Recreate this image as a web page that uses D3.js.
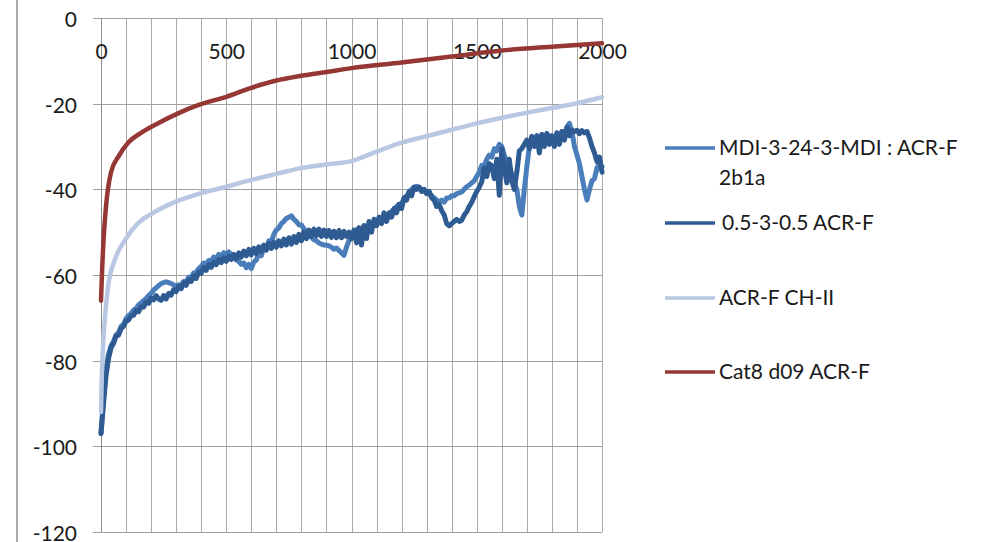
<!DOCTYPE html>
<html><head><meta charset="utf-8">
<script src="https://cdn.jsdelivr.net/npm/d3@7"></script>
<style>body{margin:0;background:#fff}svg{display:block}</style>
</head><body><svg id="c" width="984" height="542"></svg>
<script>
const seriesNames = ["MDI-3-24-3-MDI : ACR-F 2b1a", "0.5-3-0.5 ACR-F", "ACR-F CH-II", "Cat8 d09 ACR-F"];
const seriesColors = ["#4a7ebb", "#2f5b93", "#b9c8e2", "#953735"];
const xTickLabels = [0, 500, 1000, 1500, 2000];
const xGridValues = [0,100,200,300,400,500,600,700,800,900,1000,1100,1200,1300,1400,1500,1600,1700,1800,1900,2000];
const yTickLabels = [0, -20, -40, -60, -80, -100, -120];
// noisy series sampled every 10 units from 0 to 2000
const mdiValues = [
-97,-89,-82,-78.5,-76.5,-75.5,-74,-73.5,-72,-71.5,
-70.2,-69.5,-69,-68.2,-67.8,-67,-66.5,-66,-65.5,-64.8,
-64.3,-63.5,-63,-62.5,-62,-61.8,-61.6,-61.8,-62,-62.3,
-62.6,-62.3,-62.4,-61.5,-61.6,-60.5,-60.6,-59.5,-59.4,-58.5,
-58,-57.2,-57.5,-56.6,-56.8,-55.8,-56.2,-55.2,-55.6,-54.8,
-55.2,-54.6,-55.3,-55.5,-56.5,-56.8,-57.5,-57.2,-58.3,-57.5,
-58.5,-57,-56.5,-55,-55.5,-53.5,-53.8,-52,-52.3,-50.5,
-49.5,-49,-48,-47.5,-46.8,-46.5,-46.2,-47,-47.5,-48.3,
-48.3,-49.2,-50,-50.8,-51.2,-51.8,-52,-52.5,-52.8,-53,
-53,-53.2,-53.5,-54,-53.7,-54.3,-54.8,-55.4,-53.5,-52,
-50.5,-50,-49.5,-49,-49.5,-48.5,-49,-48,-48.5,-47.8,
-47.8,-47.2,-47,-46.5,-46.4,-46,-45.2,-44.6,-44,-43.5,
-43.3,-42.2,-41.5,-40.8,-40,-39.5,-39.3,-39.6,-40,-40.3,
-40.5,-41,-41.5,-42,-42.5,-43,-42.5,-43,-42,-42,
-41.5,-41.5,-41,-40.8,-40.6,-40,-39.4,-39,-38.5,-38,
-37,-36,-34.4,-34.5,-33,-32,-32.5,-30.5,-31,-29.5,
-30,-32,-33.5,-34.7,-36.5,-38.5,-40,-44,-46,-40,
-34.7,-30,-27.7,-29.5,-27.5,-29,-27.2,-28.5,-27,-28.5,
-27.5,-28.8,-27,-28.2,-26.5,-27.5,-25.5,-24.6,-26.5,-30,
-32,-34,-37,-40,-42.5,-40,-38,-37.5,-35,-34,
-34.7];
const darkValues = [
-97,-90,-83.5,-79.5,-77,-76,-74.3,-74,-72.5,-72,
-70.8,-70.5,-69.5,-69.4,-68.3,-68.6,-67.4,-67.5,-66.3,-66.6,
-65.4,-65.8,-64.8,-65.6,-65.9,-64.8,-65.6,-64.3,-64.7,-63.4,
-63.9,-62.6,-63.2,-61.8,-62.4,-61.1,-61.5,-60.2,-60.8,-59.3,
-59.6,-58.2,-58.9,-57.6,-58.2,-57,-57.6,-56.4,-57.1,-56,
-56.8,-55.6,-56.4,-55.2,-56.2,-54.8,-55.8,-54.4,-55.5,-54,
-55.3,-53.8,-55,-53.4,-54.5,-53,-54.2,-52.6,-53.8,-52.3,
-53.5,-52,-53.2,-51.6,-53,-51.3,-52.8,-51,-52.4,-50.5,
-52,-50,-51.5,-49.5,-51,-49.3,-50.8,-49.3,-51,-49.5,
-51,-49.6,-51.2,-49.8,-51.3,-49.6,-51.3,-49.8,-51,-50,
-51.5,-49.5,-52.5,-49,-53,-48.5,-51.5,-47.5,-50,-47,
-48.5,-46.5,-48,-45.5,-47.5,-45.5,-46.5,-44.5,-45.5,-43.5,
-44.5,-42,-42.5,-40.5,-41.5,-39.5,-40,-39.5,-40.5,-40,
-41,-40.5,-42,-42.5,-44,-43.5,-45,-46,-48,-48.5,
-48,-47.5,-47,-47.5,-47.2,-46,-45.2,-44,-43,-41.7,
-40.5,-39.5,-38.2,-35,-37,-34,-34.5,-37.5,-33,-41.4,
-30.5,-35,-38.5,-33,-38,-40,-36,-31,-30.5,-29.5,
-28.5,-30.5,-27.7,-30,-27.5,-31.5,-27.2,-30,-27,-29.5,
-27.5,-30,-26.8,-29.5,-26.5,-28.5,-25.5,-27.5,-26.2,-26.5,
-26.2,-27,-26.3,-26.8,-26.5,-28,-30,-31.5,-33.5,-32.5,
-36];
const chX = [0,3,8,15,28,55,95,148,214,294,387,500,600,700,794,900,1000,1100,1200,1300,1400,1500,1600,1700,1800,1900,2000];
const chValues = [-92,-84,-77,-70.5,-62.8,-56.5,-51.9,-47.9,-45.3,-43,-41.1,-39.4,-37.8,-36.4,-35.1,-34.2,-33.4,-31.2,-29.1,-27.6,-26.1,-24.6,-23.3,-22.1,-21,-19.9,-18.5];
const catX = [0,5,10,20,40,70,110,160,230,310,390,500,600,700,800,900,1000,1200,1400,1600,1800,2000];
const catValues = [-66,-58,-52,-44,-36,-32.3,-29,-26.8,-24.5,-22.2,-20.3,-18.4,-16.3,-14.6,-13.5,-12.6,-11.7,-10.4,-9,-7.6,-6.7,-5.9];

const svg = d3.select("#c");
const x = d3.scaleLinear().domain([0, 2000]).range([101, 602]);
const y = d3.scaleLinear().domain([-120, 0]).range([532, 18]);
const font = "Lato, 'Open Sans', sans-serif";

// outer chart border (left edge)
svg.append("line").attr("x1", 17).attr("x2", 17).attr("y1", 0).attr("y2", 542)
  .attr("stroke", "#8c8c8c").attr("stroke-width", 1.5);

// gridlines
const g = svg.append("g").attr("shape-rendering", "crispEdges");
g.selectAll(".vg").data(xGridValues).join("line")
  .attr("x1", d => Math.round(x(d)) + 0.5).attr("x2", d => Math.round(x(d)) + 0.5)
  .attr("y1", y(0)).attr("y2", y(-120)).attr("stroke", "#aaaaaa").attr("stroke-width", 1);
g.selectAll(".hg").data(yTickLabels).join("line")
  .attr("x1", x(0) - 8).attr("x2", x(2000))
  .attr("y1", d => Math.round(y(d)) + 0.5).attr("y2", d => Math.round(y(d)) + 0.5)
  .attr("stroke", "#a0a0a0").attr("stroke-width", 1);
g.append("line").attr("x1", Math.round(x(0)) + 0.5).attr("x2", Math.round(x(0)) + 0.5)
  .attr("y1", y(0)).attr("y2", y(-120)).attr("stroke", "#8c8c8c");

// y axis labels
const yAxis = d3.axisLeft(y).tickValues(yTickLabels).tickSize(0).tickPadding(24).tickFormat(d => String(d));
const ya = svg.append("g").attr("transform", `translate(${x(0)},0)`).call(yAxis);
ya.select(".domain").remove();
ya.selectAll("text").attr("font-family", font).attr("font-size", 21).attr("fill", "#1a1a1a").attr("dy", "0.4em");

// x axis labels (below top axis line)
const xAxis = d3.axisBottom(x).tickValues(xTickLabels).tickSize(0).tickPadding(26).tickFormat(d => String(d));
const xa = svg.append("g").attr("transform", `translate(0,${y(0)})`).call(xAxis);
xa.select(".domain").remove();
xa.selectAll("text").attr("font-family", font).attr("font-size", 21).attr("fill", "#1a1a1a");

// series
const stepX = i => i * 10;
const line = d3.line().x(d => x(d[0])).y(d => y(d[1])).curve(d3.curveLinear);
const seriesData = [
  mdiValues.map((v, i) => [stepX(i), v]),
  darkValues.map((v, i) => [stepX(i), v]),
  chValues.map((v, i) => [chX[i], v]),
  catValues.map((v, i) => [catX[i], v])
];
const widths = [5, 5, 4.5, 4.5];
const curves = [d3.curveLinear, d3.curveLinear, d3.curveMonotoneX, d3.curveMonotoneX];
seriesData.forEach((data, i) => {
  svg.append("path").datum(data)
    .attr("d", line.curve(curves[i]))
    .attr("fill", "none").attr("stroke", seriesColors[i]).attr("stroke-width", widths[i])
    .attr("stroke-linejoin", "round").attr("stroke-linecap", "round");
});

// legend
const legendY = [148, 223, 298, 372];
const lg = svg.append("g");
seriesNames.forEach((name, i) => {
  lg.append("line").attr("x1", 665).attr("x2", 715).attr("y1", legendY[i]).attr("y2", legendY[i])
    .attr("stroke", seriesColors[i]).attr("stroke-width", 3.5);
  const t = lg.append("text").attr("x", i === 1 ? 722 : 719).attr("y", legendY[i] + 7)
    .attr("font-family", font).attr("font-size", 21).attr("fill", "#1a1a1a");
  if (i === 0) {
    t.append("tspan").attr("x", 719).text("MDI-3-24-3-MDI : ACR-F");
    t.append("tspan").attr("x", 719).attr("dy", 30).text("2b1a");
  } else {
    t.text(name);
  }
});
</script></body></html>
